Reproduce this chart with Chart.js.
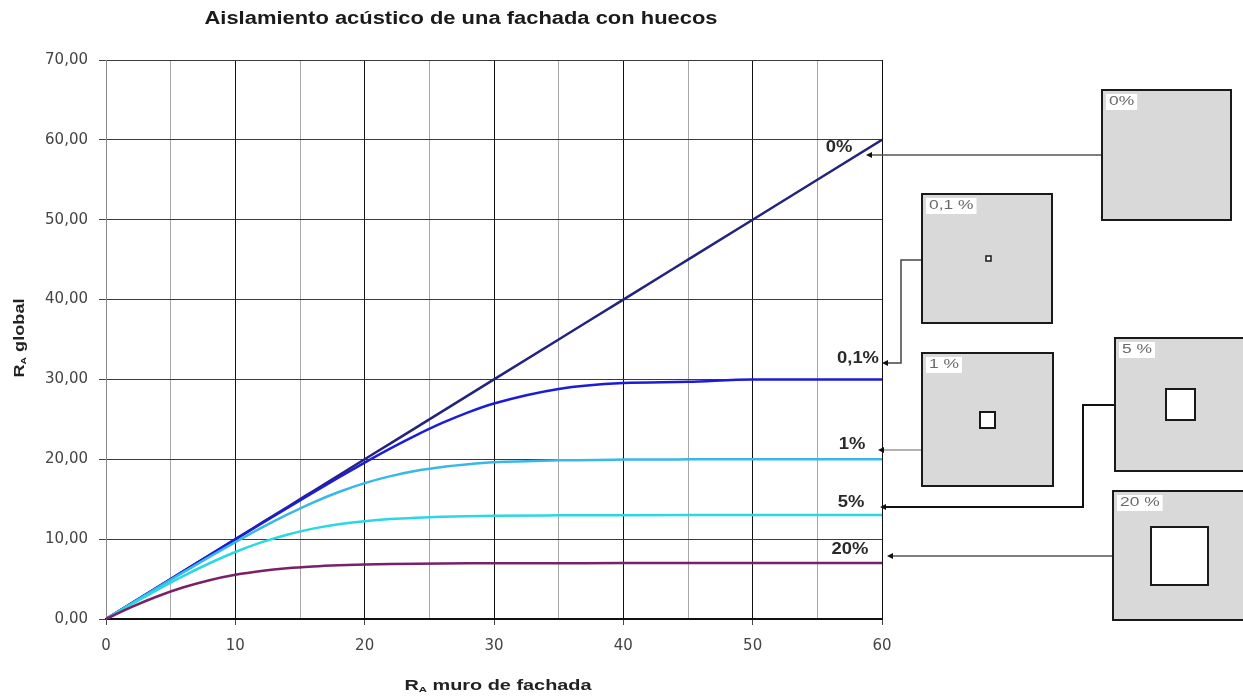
<!DOCTYPE html>
<html>
<head>
<meta charset="utf-8">
<script src="https://cdn.jsdelivr.net/npm/chart.js@4.4.0/dist/chart.umd.min.js"></script>
<style>
  html, body { margin: 0; padding: 0; background: #fff; }
  canvas { display: block; }
</style>
</head>
<body>
<canvas id="chart" width="1243" height="698"></canvas>
<script>
// R_A of the wall (x) and resulting global R_A per opening ratio
const muroR = [0, 2, 4, 6, 8, 10, 12, 14, 16, 18, 20, 22, 24, 26, 28, 30, 35, 40, 45, 50, 55, 60]
const hueco0 = [0, 2, 4, 6, 8, 10, 12, 14, 16, 18, 20, 22, 24, 26, 28, 30, 35, 40, 45, 50, 55, 60]
const hueco01 = [0, 2.0, 4.0, 6.0, 7.97, 9.96, 11.93, 13.89, 15.83, 17.74, 19.59, 21.37, 23.03, 24.55, 25.88, 26.99, 28.81, 29.55, 29.7, 30.0, 30.0, 30.0]
const hueco1 = [0, 1.97, 3.94, 5.87, 7.78, 9.62, 11.4, 13.06, 14.58, 15.9, 17.01, 17.89, 18.56, 19.03, 19.37, 19.62, 19.87, 19.96, 19.99, 20, 20, 20]
const hueco5 = [0, 1.87, 3.68, 5.4, 6.98, 8.39, 9.59, 10.56, 11.32, 11.87, 12.25, 12.52, 12.69, 12.81, 12.88, 12.93, 12.98, 13.0, 13.01, 13.01, 13.01, 13.01]
const hueco20 = [0, 1.52, 2.85, 3.97, 4.86, 5.53, 6.01, 6.35, 6.57, 6.72, 6.82, 6.88, 6.92, 6.95, 6.97, 6.98, 6.99, 7.0, 7.0, 7.0, 7.0, 7.0]

const seriesLabels = ['0%', '0,1%', '1%', '5%', '20%']
const boxLabels = ['0%', '0,1 %', '1 %', '5 %', '20 %']
const chartTitle = 'Aislamiento acústico de una fachada con huecos'

const FONT = '"Liberation Sans", Arial, sans-serif'
const TICK_FONT = '"DejaVu Sans", Verdana, sans-serif'

const toPoints = (ys) => ys.map((y, i) => ({ x: muroR[i], y }))

const makeSet = (label, data, color, order) => ({
  label,
  data: toPoints(data),
  borderColor: color,
  backgroundColor: color,
  borderWidth: 2.5,
  pointRadius: 0,
  cubicInterpolationMode: 'monotone',
  fill: false,
  order
})

// text drawn wider than the font, like the stretched original
function stretchText(ctx, parts, cx, cy, opts) {
  ctx.save()
  ctx.translate(cx, cy)
  if (opts.rotate) ctx.rotate(-Math.PI / 2)
  ctx.textBaseline = 'middle'
  ctx.textAlign = 'left'
  ctx.fillStyle = opts.color
  let total = 0
  parts.forEach(p => { ctx.font = p.font; p.w = ctx.measureText(p.t).width; total += p.w })
  const sx = opts.width ? opts.width / total : (opts.sx || 1)
  ctx.scale(sx, 1)
  let x = opts.align === 'left' ? 0 : -total / 2
  parts.forEach(p => {
    ctx.font = p.font
    ctx.fillText(p.t, x, p.dy || 0)
    x += p.w
  })
  ctx.restore()
}

// Titles, curve labels, sample boxes and leader lines
const annotations = {
  id: 'annotations',
  afterDraw(chart) {
    const ctx = chart.ctx
    const sx = chart.scales.x
    const sy = chart.scales.y
    ctx.save()

    // chart title
    stretchText(ctx, [{ t: chartTitle, font: 'bold 18px ' + FONT }], 461, 19, { color: '#1a1a1a', width: 513 })

    // axis titles with subscript A
    const axisTitle = (rest) => [
      { t: 'R', font: 'bold 14px ' + FONT },
      { t: 'A', font: 'bold 8px ' + FONT, dy: 4 },
      { t: rest, font: 'bold 14px ' + FONT }
    ]
    stretchText(ctx, axisTitle(' global'), 20, 338, { color: '#222', width: 79, rotate: true })
    stretchText(ctx, axisTitle(' muro de fachada'), 498, 686, { color: '#222', width: 187 })

    // labels at the end of each curve
    const xEnd = sx.getPixelForValue(60)
    const ends = [hueco0, hueco01, hueco1, hueco5, hueco20].map(a => sy.getPixelForValue(a[a.length - 1]))
    const labelOffsets = [[-43, 8], [-24, -21], [-30, -15], [-31, -13], [-32, -14]]
    seriesLabels.forEach((t, i) => {
      stretchText(ctx, [{ t, font: 'bold 16px ' + FONT }], xEnd + labelOffsets[i][0], ends[i] + labelOffsets[i][1], { color: '#2a2a2a', sx: 1.15 })
    })

    // leader lines
    const leaders = [
      { pts: [[868, 155], [1102, 155]], color: '#555', w: 1.5 },
      { pts: [[884, 363], [901, 363], [901, 260], [922, 260]], color: '#444', w: 1.5 },
      { pts: [[880, 450], [922, 450]], color: '#666', w: 1.2 },
      { pts: [[882, 507], [1083, 507], [1083, 405], [1115, 405]], color: '#111', w: 2 },
      { pts: [[889, 556], [1113, 556]], color: '#555', w: 1.5 }
    ]
    leaders.forEach(l => {
      ctx.strokeStyle = l.color
      ctx.lineWidth = l.w
      ctx.beginPath()
      l.pts.forEach((p, i) => (i ? ctx.lineTo(p[0], p[1]) : ctx.moveTo(p[0], p[1])))
      ctx.stroke()
      const [ax, ay] = l.pts[0]
      ctx.fillStyle = '#111'
      ctx.beginPath()
      ctx.moveTo(ax - 2, ay)
      ctx.lineTo(ax + 4, ay - 3)
      ctx.lineTo(ax + 4, ay + 3)
      ctx.closePath()
      ctx.fill()
    })

    // façade sample boxes with opening
    const boxes = [
      { x: 1102, y: 90, w: 129, h: 130, hole: null },
      { x: 922, y: 194, w: 130, h: 129, hole: [986, 256, 5, 5] },
      { x: 922, y: 353, w: 131, h: 133, hole: [980, 412, 15, 16] },
      { x: 1115, y: 338, w: 132, h: 133, hole: [1166, 389, 29, 31] },
      { x: 1113, y: 491, w: 132, h: 129, hole: [1151, 527, 57, 58] }
    ]
    boxes.forEach((b, i) => {
      ctx.fillStyle = '#d9d9d9'
      ctx.fillRect(b.x, b.y, b.w, b.h)
      ctx.strokeStyle = '#1a1a1a'
      ctx.lineWidth = 2
      ctx.strokeRect(b.x, b.y, b.w, b.h)
      if (b.hole) {
        ctx.fillStyle = '#fff'
        ctx.fillRect(b.hole[0], b.hole[1], b.hole[2], b.hole[3])
        ctx.lineWidth = b.hole[2] > 10 ? 2 : 1.5
        ctx.strokeRect(b.hole[0], b.hole[1], b.hole[2], b.hole[3])
      }
      ctx.font = '12px ' + FONT
      const tw = ctx.measureText(boxLabels[i]).width * 1.45
      ctx.fillStyle = '#fff'
      ctx.fillRect(b.x + 4, b.y + 4, tw + 6, 16)
      stretchText(ctx, [{ t: boxLabels[i], font: '12px ' + FONT }], b.x + 7, b.y + 12, { color: '#6a6a6a', sx: 1.45, align: 'left' })
    })

    ctx.restore()
  }
}

new Chart(document.getElementById('chart'), {
  type: 'line',
  data: {
    datasets: [
      makeSet(seriesLabels[0], hueco0, '#23237e', 5),
      makeSet(seriesLabels[1], hueco01, '#1c1cd8', 4),
      makeSet(seriesLabels[2], hueco1, '#38b8ea', 3),
      makeSet(seriesLabels[3], hueco5, '#2ad8e0', 2),
      makeSet(seriesLabels[4], hueco20, '#7a2068', 1)
    ]
  },
  plugins: [annotations],
  options: {
    responsive: false,
    animation: false,
    layout: { padding: { left: 0, top: 60, right: 361, bottom: 0 } },
    plugins: {
      legend: { display: false },
      tooltip: { enabled: false },
      title: { display: false }
    },
    scales: {
      x: {
        type: 'linear',
        min: 0,
        max: 60,
        afterFit: (scale) => { scale.height = 79 },
        ticks: {
          stepSize: 5,
          autoSkip: false,
          maxRotation: 0,
          padding: 12,
          color: '#444',
          font: { family: TICK_FONT, size: 15 },
          callback: (v) => (v % 10 === 0 ? String(v) : '')
        },
        grid: {
          color: (c) => (c.tick && c.tick.value % 10 === 0 ? '#111' : '#a8a8a8'),
          tickColor: (c) => (c.tick && c.tick.value % 10 === 0 ? '#444' : 'rgba(0,0,0,0)'),
          tickLength: 6,
          lineWidth: 1
        },
        border: { color: '#111', width: 2 }
      },
      y: {
        type: 'linear',
        min: 0,
        max: 70,
        afterFit: (scale) => { scale.width = 106 },
        ticks: {
          stepSize: 10,
          padding: 11,
          color: '#444',
          font: { family: TICK_FONT, size: 15 },
          callback: (v) => v.toFixed(2).replace('.', ',')
        },
        grid: {
          color: '#3a3a3a',
          tickColor: '#444',
          tickLength: 7,
          lineWidth: 1
        },
        border: { color: '#888', width: 1 }
      }
    }
  }
})
</script>
</body>
</html>
